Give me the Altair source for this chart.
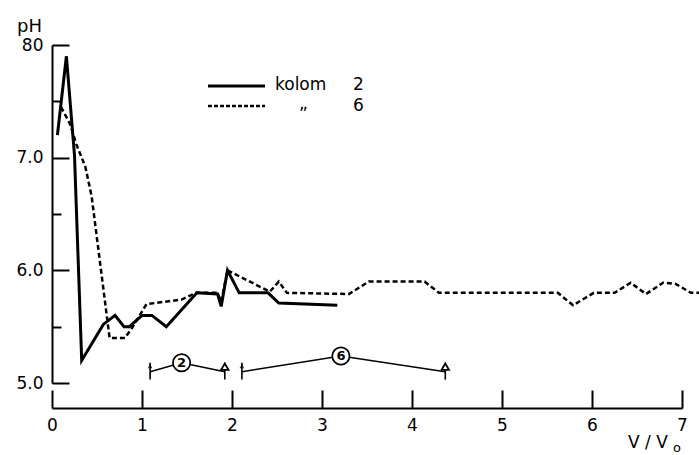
import altair as alt
import pandas as pd

# ---- data ----
solid_x = [0.06, 0.16, 0.25, 0.33, 0.57, 0.70, 0.80, 0.86, 1.00, 1.11, 1.27, 1.61, 1.84, 1.88, 1.95, 2.08, 2.40, 2.52, 3.17]
solid_y = [7.20, 7.90, 7.02, 5.20, 5.52, 5.60, 5.50, 5.50, 5.60, 5.60, 5.50, 5.80, 5.79, 5.68, 6.00, 5.80, 5.80, 5.71, 5.69]

dashed_x = [0.10, 0.20, 0.27, 0.37, 0.44, 0.64, 0.81, 0.89, 1.05, 1.44, 1.60, 1.84, 1.88, 1.95, 2.42, 2.52, 2.61,
            3.30, 3.52, 4.14, 4.30, 5.62, 5.79, 6.02, 6.25, 6.43, 6.60, 6.79, 6.93, 7.10, 7.19]
dashed_y = [7.45, 7.30, 7.12, 6.92, 6.66, 5.40, 5.40, 5.49, 5.70, 5.74, 5.80, 5.80, 5.72, 6.00, 5.81, 5.90, 5.80,
            5.79, 5.90, 5.90, 5.80, 5.80, 5.69, 5.80, 5.80, 5.89, 5.79, 5.89, 5.88, 5.80, 5.80]

x_tick_values = [0, 1, 2, 3, 4, 5, 6, 7]
y_tick_values = [5, 6, 7, 8]
y_tick_labels = ["5.0", "6.0", "7.0", "80"]
y_minor_values = [5.5, 6.5, 7.5]

range_names = ["2", "6"]
range_start = [1.09, 2.11]
range_end = [1.92, 4.37]
range_mid_x = [1.44, 3.21]
range_mid_y = [5.18, 5.24]
range_base = 5.10

legend_names = ["kolom", "2", "\u201e", "6"]
y_title = "pH"
x_title = "V / V"
x_title_sub = "o"

# ---- layout ----
W, H = 630, 338
FONT = "DejaVu Sans"
X_OFF = 25

xs = alt.Scale(domain=[0, 7], nice=False, zero=False)
ys = alt.Scale(domain=[5, 8], nice=False, zero=False)

label_expr = " : ".join(
    [f"datum.value == {v} ? '{l}'" for v, l in zip(y_tick_values, y_tick_labels)]
) + " : ''"

solid_df = pd.DataFrame({"x": solid_x, "y": solid_y, "i": range(len(solid_x))})
dashed_df = pd.DataFrame({"x": dashed_x, "y": dashed_y, "i": range(len(dashed_x))})

solid = alt.Chart(solid_df).mark_line(color="black", strokeWidth=3, clip=False).encode(
    x=alt.X("x:Q", scale=xs, axis=alt.Axis(
        orient="bottom", offset=X_OFF, values=x_tick_values, ticks=False, domainWidth=2,
        domainColor="black", labelFontSize=17, labelFont=FONT, labelColor="black",
        labelPadding=9, title=None, grid=False, labelFlush=False)),
    y=alt.Y("y:Q", scale=ys, axis=alt.Axis(
        orient="left", values=y_tick_values, labelExpr=label_expr, ticks=False, domainWidth=2,
        domainColor="black", labelFontSize=17, labelFont=FONT, labelColor="black",
        labelPadding=9, title=None, grid=False, labelFlush=False)),
    order="i:Q",
)

dashed = alt.Chart(dashed_df).mark_line(color="black", strokeWidth=2.5, strokeDash=[5, 3], clip=False).encode(
    x=alt.X("x:Q", scale=xs, axis=alt.Axis(
        orient="top", offset=-(H + X_OFF), values=x_tick_values, labels=False, domain=False,
        tickSize=18, tickWidth=2, tickColor="black", title=None, grid=False)),
    y=alt.Y("y:Q", scale=ys, axis=alt.Axis(
        orient="right", offset=-W, values=y_tick_values + y_minor_values, labels=False, domain=False,
        tickSize={"condition": {"test": "datum.value % 1 === 0", "value": 17}, "value": 9},
        tickWidth=2, tickColor="black", title=None, grid=False)),
    order="i:Q",
)

# range annotation
rows = []
for g, s, e, mx, my in zip(range_names, range_start, range_end, range_mid_x, range_mid_y):
    rows += [{"g": g, "o": 0, "x": s, "y": range_base},
             {"g": g, "o": 1, "x": mx, "y": my},
             {"g": g, "o": 2, "x": e, "y": range_base}]
range_line_df = pd.DataFrame(rows)
NX = alt.X("x:Q", scale=xs, axis=None)
NY = alt.Y("y:Q", scale=ys, axis=None)

range_lines = alt.Chart(range_line_df).mark_line(color="black", strokeWidth=1.6).encode(
    x=NX, y=NY, detail="g:N", order="o:Q")

tick_df = pd.DataFrame({"x": range_start + range_end, "y": [5.03] * 4, "y2": [5.18] * 4})
range_ticks = alt.Chart(tick_df).mark_rule(color="black", strokeWidth=1.6).encode(
    x=NX, y=NY, y2="y2:Q")

start_df = pd.DataFrame({"x": range_start, "y": [5.15] * len(range_start)})
start_marks = alt.Chart(start_df).mark_point(shape="triangle-up", filled=True, color="black", size=24).encode(
    x=NX, y=NY)

end_df = pd.DataFrame({"x": range_end, "y": [5.145] * len(range_end)})
end_marks = alt.Chart(end_df).mark_point(shape="triangle-up", fill="white", stroke="black",
                                         strokeWidth=1.8, size=55, opacity=1).encode(x=NX, y=NY)

mid_df = pd.DataFrame({"x": range_mid_x, "y": range_mid_y, "t": range_names})
circles = alt.Chart(mid_df).mark_point(shape="circle", fill="white", stroke="black",
                                       strokeWidth=1.8, size=300, opacity=1).encode(x=NX, y=NY)
circle_text = alt.Chart(mid_df).mark_text(font=FONT, fontSize=13, fontWeight="bold", color="black",
                                          align="center", baseline="middle", dy=0.5).encode(x=NX, y=NY, text="t:N")

# legend
leg_solid = alt.Chart(pd.DataFrame({"a": [0]})).mark_rule(color="black", strokeWidth=3).encode(
    x=alt.value(156), x2=alt.value(213), y=alt.value(41))
leg_dash = alt.Chart(pd.DataFrame({"a": [0]})).mark_rule(color="black", strokeWidth=2.5, strokeDash=[4, 2]).encode(
    x=alt.value(156), x2=alt.value(213), y=alt.value(61))
leg_df = pd.DataFrame({"t": legend_names, "px": [223, 301, 247, 301], "py": [45, 45, 64, 66]})
leg_text = alt.Chart(leg_df).mark_text(font=FONT, fontSize=17, color="black", align="left",
                                       baseline="alphabetic").encode(
    x=alt.X("px:Q", scale=None), y=alt.Y("py:Q", scale=None), text="t:N")

ytitle = alt.Chart(pd.DataFrame({"t": [y_title]})).mark_text(
    font=FONT, fontSize=18, color="black", align="left", baseline="alphabetic").encode(
    x=alt.value(-35), y=alt.value(-13), text="t:N")
xtitle = alt.Chart(pd.DataFrame({"t": [x_title]})).mark_text(
    font=FONT, fontSize=17, color="black", align="left", baseline="alphabetic").encode(
    x=alt.value(576), y=alt.value(403), text="t:N")
xtitle_sub = alt.Chart(pd.DataFrame({"t": [x_title_sub]})).mark_text(
    font=FONT, fontSize=13, color="black", align="left", baseline="alphabetic").encode(
    x=alt.value(621), y=alt.value(407), text="t:N")

chart = alt.layer(
    solid, dashed, range_lines, range_ticks, start_marks, circles, circle_text, end_marks,
    leg_solid, leg_dash, leg_text, ytitle, xtitle, xtitle_sub,
).resolve_axis(x="independent", y="independent").properties(
    width=W, height=H,
    padding={"left": 52, "top": 45, "right": 17, "bottom": 72},
    autosize=alt.AutoSizeParams(type="none"),
    background="white",
).configure_view(stroke=None)

chart.save("out.html", embed_options={"renderer": "svg", "actions": False})
